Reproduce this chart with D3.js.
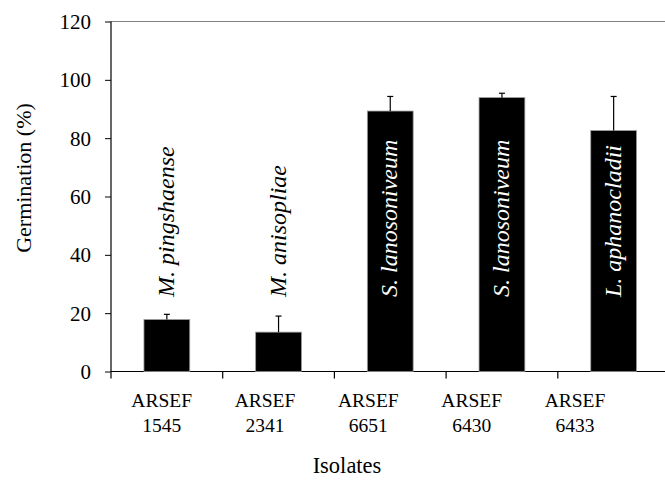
<!DOCTYPE html>
<html>
<head>
<meta charset="utf-8">
<script src="https://cdn.jsdelivr.net/npm/d3@7/dist/d3.min.js"></script>
<style>
  html, body { margin: 0; padding: 0; background: #fff; }
  svg { display: block; }
</style>
</head>
<body>
<svg id="chart" width="665" height="490"></svg>
<script>
// Isolates and germination values
const isolates = ["ARSEF 1545", "ARSEF 2341", "ARSEF 6651", "ARSEF 6430", "ARSEF 6433"];
const species = ["M. pingshaense", "M. anisopliae", "S. lanosoniveum", "S. lanosoniveum", "L. aphanocladii"];
const germination = [17.8, 13.5, 89.3, 93.9, 82.6];
const errorTop = [19.6, 19.0, 94.3, 95.4, 94.3];
const yTicks = [0, 20, 40, 60, 80, 100, 120];

const FONT = "'Liberation Serif', 'Times New Roman', Times, 'DejaVu Serif', serif";

const svg = d3.select("#chart").style("font-family", FONT);
const plotLeft = 111, plotTop = 21.5, plotBottom = 371.5, step = 111.7;
const plotRight = plotLeft + step * isolates.length;

const x = d3.scaleBand().domain(isolates).range([plotLeft, plotRight]).padding(0);
const y = d3.scaleLinear().domain([0, 120]).range([plotBottom, plotTop]);
// category labels sit on a slightly tighter spacing than the bars
const xLabel = d3.scalePoint().domain(isolates).range([161.7, 575]);

const barW = x.bandwidth() * 0.41;

// frame top line
svg.append("line")
  .attr("x1", plotLeft).attr("x2", 665)
  .attr("y1", y(120)).attr("y2", y(120))
  .attr("stroke", "#808080").attr("stroke-width", 1.2);

// y axis
const yAxis = d3.axisLeft(y).tickValues(yTicks).tickSize(6).tickPadding(14);
const gy = svg.append("g").attr("transform", `translate(${plotLeft},0)`).call(yAxis)
  .attr("font-family", null).attr("font-size", 21);
gy.select(".domain").remove();
gy.selectAll(".tick line").attr("stroke", "#000");
gy.selectAll(".tick text").attr("fill", "#000").attr("dy", "0.34em")
  .style("font-family", FONT);
svg.append("line")
  .attr("x1", plotLeft).attr("x2", plotLeft)
  .attr("y1", y(120)).attr("y2", plotBottom + 7)
  .attr("stroke", "#000").attr("stroke-width", 1.2);

// x axis with tick marks at band edges
svg.append("line")
  .attr("x1", plotLeft).attr("x2", 665)
  .attr("y1", plotBottom).attr("y2", plotBottom)
  .attr("stroke", "#000").attr("stroke-width", 1.2);
svg.append("g").selectAll("line")
  .data(isolates)
  .join("line")
  .attr("x1", d => x(d) + x.bandwidth())
  .attr("x2", d => x(d) + x.bandwidth())
  .attr("y1", plotBottom).attr("y2", plotBottom + 7)
  .attr("stroke", "#000").attr("stroke-width", 1.2);

// bars
svg.append("g").selectAll("rect")
  .data(germination)
  .join("rect")
  .attr("x", (d, i) => x(isolates[i]) + (x.bandwidth() - barW) / 2)
  .attr("y", d => y(d))
  .attr("width", barW)
  .attr("height", d => y(0) - y(d))
  .attr("fill", "#000")
  .attr("stroke", "#9a9a9a").attr("stroke-width", 0.8);

// error bars (upper only)
const eb = svg.append("g").attr("stroke", "#000").attr("stroke-width", 1.2);
errorTop.forEach((e, i) => {
  const cx = x(isolates[i]) + x.bandwidth() / 2;
  eb.append("line").attr("x1", cx).attr("x2", cx)
    .attr("y1", y(germination[i])).attr("y2", y(e));
  eb.append("line").attr("x1", cx - 3).attr("x2", cx + 3)
    .attr("y1", y(e)).attr("y2", y(e));
});

// species names, rotated
svg.append("g").selectAll("text")
  .data(species)
  .join("text")
  .attr("transform", (d, i) => `translate(${x(isolates[i]) + x.bandwidth() / 2 + 7},297) rotate(-90)`)
  .attr("text-anchor", "start")
  .style("font-family", FONT)
  .attr("font-size", 24)
  .attr("font-style", "italic")
  .attr("fill", (d, i) => germination[i] > 50 ? "#fff" : "#000")
  .text(d => d);

// category labels on two lines
const cat = svg.append("g").selectAll("text")
  .data(isolates)
  .join("text")
  .attr("text-anchor", "middle")
  .style("font-family", FONT)
  .attr("font-size", 19.5);
cat.each(function (d) {
  const parts = d.split(" ");
  const t = d3.select(this);
  t.append("tspan").attr("x", xLabel(d)).attr("y", 407).text(parts[0]);
  t.append("tspan").attr("x", xLabel(d)).attr("y", 432).text(parts[1]);
});

// axis titles
svg.append("text")
  .attr("x", 347).attr("y", 473)
  .attr("text-anchor", "middle")
  .style("font-family", FONT)
  .attr("font-size", 22.5)
  .text("Isolates");

svg.append("text")
  .attr("transform", "translate(31,178) rotate(-90)")
  .attr("text-anchor", "middle")
  .style("font-family", FONT)
  .attr("font-size", 22)
  .text("Germination (%)");
</script>
</body>
</html>
